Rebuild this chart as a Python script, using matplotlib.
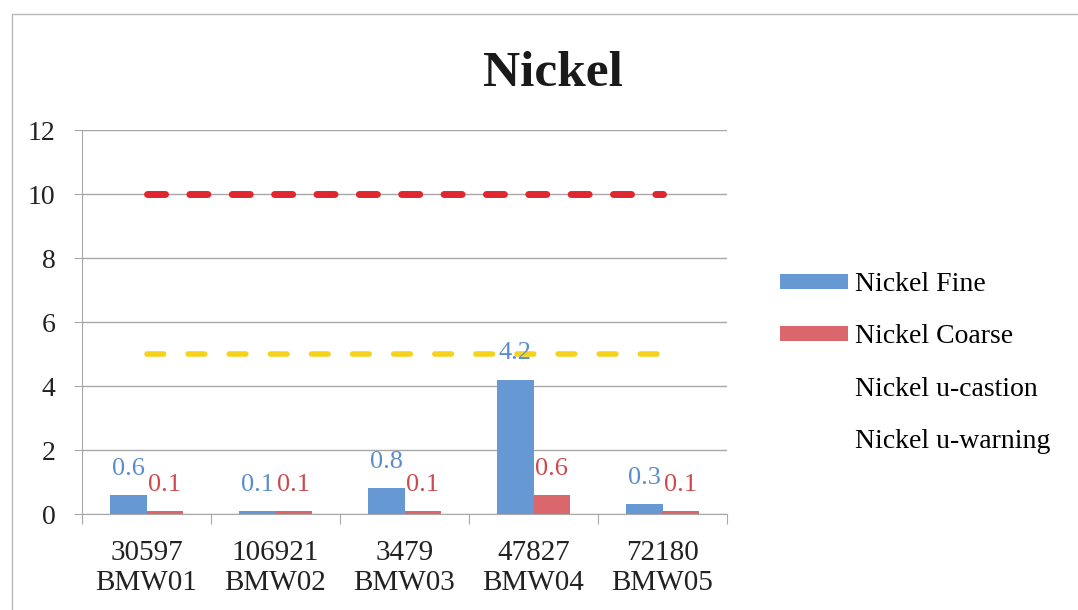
import matplotlib
matplotlib.use("Agg")
from matplotlib import pyplot as plt
from matplotlib.lines import Line2D

plt.rcParams['font.family'] = ['Liberation Serif', 'DejaVu Serif']

samples = ["30597\nBMW01", "106921\nBMW02", "3479\nBMW03", "47827\nBMW04", "72180\nBMW05"]
fine = [0.6, 0.1, 0.8, 4.2, 0.3]
coarse = [0.1, 0.1, 0.1, 0.6, 0.1]
caution = [10, 10, 10, 10, 10]
warning = [5, 5, 5, 5, 5]

blue = '#6699d4'
red = '#d9676b'
blue_txt = '#5b8dcd'
red_txt = '#cc4a4f'
grid_c = '#a8a8a8'

fig = plt.figure(figsize=(10.78, 6.1), dpi=100)
ax = fig.add_axes([82/1078, 96/610, 645/1078, 384/610])

x = list(range(len(samples)))
w = 0.28
b1 = ax.bar([i - w/2 for i in x], fine, w, color=blue, label='Nickel Fine', zorder=3)
b2 = ax.bar([i + w/2 for i in x], coarse, w, color=red, label='Nickel Coarse', zorder=3)

l1, = ax.plot(x, caution, color='#e0262e', lw=5.0, dashes=(2.6, 3.5),
              dash_capstyle='round', label='Nickel u-castion', zorder=4)
l2, = ax.plot(x, warning, color='#f5d21c', lw=4.0, dashes=(3.0, 4.4),
              dash_capstyle='round', label='Nickel u-warning', zorder=4)

for rect, v in zip(b1, fine):
    ax.annotate(f"{v:.1f}", (rect.get_x() + rect.get_width()/2, rect.get_height()),
                xytext=(0, 11), textcoords='offset points', ha='center', va='bottom',
                fontsize=19, color=blue_txt, zorder=5)
for rect, v in zip(b2, coarse):
    ax.annotate(f"{v:.1f}", (rect.get_x() + rect.get_width()/2, rect.get_height()),
                xytext=(0, 11), textcoords='offset points', ha='center', va='bottom',
                fontsize=19, color=red_txt, zorder=5)

ax.set_xlim(-0.5, len(samples) - 0.5)
ax.set_ylim(0, 12)
ax.set_yticks(range(0, 13, 2))
ax.tick_params(axis='y', labelsize=20, length=6, color=grid_c, pad=13, labelcolor='#222222')
ax.grid(axis='y', color=grid_c, lw=1, zorder=0)

ax.set_xticks([i + 0.5 for i in range(-1, len(samples))])
ax.set_xticklabels([])
ax.set_xticks(x, minor=True)
ax.set_xticklabels(samples, minor=True, fontsize=21, linespacing=1.2, color='#222222')
ax.tick_params(axis='x', which='major', length=7, color=grid_c)
ax.tick_params(axis='x', which='minor', length=0, pad=19)

for s in ['top', 'right']:
    ax.spines[s].set_visible(False)
for s in ['left', 'bottom']:
    ax.spines[s].set_color(grid_c)

leg = ax.legend(handles=[b1, b2, l1, l2], loc='center left',
                bbox_to_anchor=(780/1078, 1 - 363/610), bbox_transform=fig.transFigure,
                frameon=False, fontsize=20, handlelength=2.45, handleheight=0.45,
                labelspacing=0.98, handletextpad=0.25, borderpad=0, borderaxespad=0)
for h in leg.legend_handles[2:]:
    h.set_visible(False)

fig.text(553/1078, 1 - 86/610, "Nickel", ha='center', va='baseline',
         fontsize=37, fontweight='bold', color='#1a1a1a')

# chart border (scan shows top and left edge)
fig.add_artist(Line2D([12/1078, 12/1078, 1], [0, 1 - 14/610, 1 - 14/610],
                      transform=fig.transFigure, color='#b8b8b8', lw=1))

fig.savefig("out.png", dpi=100)
